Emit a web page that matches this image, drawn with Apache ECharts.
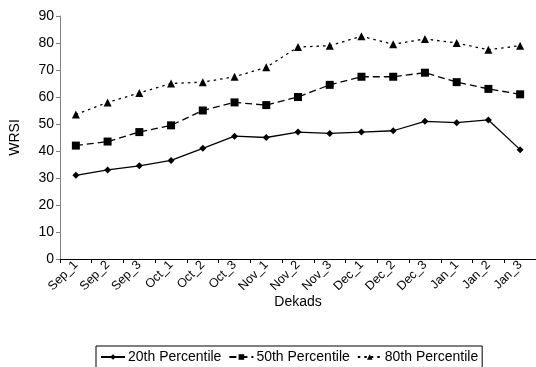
<!DOCTYPE html>
<html>
<head>
<meta charset="utf-8">
<script src="https://cdn.jsdelivr.net/npm/echarts@6/dist/echarts.min.js"></script>
<style>
  html, body { margin: 0; padding: 0; background: #fff; }
  #chart { width: 536px; height: 367px; }
</style>
</head>
<body>
<div id="chart"></div>
<script>
// WRSI percentiles per dekad across the season
const dekads = ['Sep_1', 'Sep_2', 'Sep_3', 'Oct_1', 'Oct_2', 'Oct_3', 'Nov_1', 'Nov_2', 'Nov_3',
                'Dec_1', 'Dec_2', 'Dec_3', 'Jan_1', 'Jan_2', 'Jan_3'];
const p20 = [31, 33, 34.5, 36.5, 41, 45.5, 45, 47, 46.5, 47, 47.5, 51, 50.5, 51.5, 40.5];
const p50 = [42, 43.5, 47, 49.5, 55, 58, 57, 60, 64.5, 67.5, 67.5, 69, 65.5, 63, 61];
const p80 = [53.5, 58, 61.5, 65, 65.5, 67.5, 71, 78.5, 79, 82.5, 79.5, 81.5, 80, 77.5, 79];
const seriesNames = ['20th Percentile', '50th Percentile', '80th Percentile'];

const font = 'Liberation Sans, Arial, sans-serif';
const axisGray = '#808080';

const chart = echarts.init(document.getElementById('chart'), null, { renderer: 'canvas' });

function lineSeries(name, data, symbol, size, dash) {
  return {
    name: name,
    type: 'line',
    data: data,
    symbol: symbol,
    symbolSize: size,
    showAllSymbol: true,
    itemStyle: { color: '#000' },
    lineStyle: { color: '#000', width: 1.3, type: dash },
    animation: false
  };
}

chart.setOption({
  animation: false,
  grid: { left: 57, top: 16, width: 480, height: 243, containLabel: false },
  legend: {
    data: seriesNames,
    left: 96,
    top: 346,
    itemWidth: 24,
    itemHeight: 7,
    itemGap: 7,
    padding: [4, 4, 8, 4],
    borderColor: '#000',
    borderWidth: 1,
    textStyle: { fontFamily: font, fontSize: 14, color: '#000', padding: [0, 0, 0, -2] }
  },
  xAxis: {
    type: 'category',
    data: dekads,
    boundaryGap: true,
    name: 'Dekads',
    nameLocation: 'middle',
    nameGap: 36,
    nameMoveOverlap: false,
    nameTextStyle: { fontFamily: font, fontSize: 14, color: '#000' },
    axisLine: { lineStyle: { color: '#000', width: 1 } },
    axisTick: { show: true, length: 4, alignWithLabel: false, lineStyle: { color: '#000' } },
    axisLabel: { rotate: 45, interval: 0, fontFamily: font, fontSize: 12.5, color: '#000', margin: 4 },
    splitLine: { show: false }
  },
  yAxis: {
    type: 'value',
    min: 0,
    max: 90,
    interval: 10,
    name: 'WRSI',
    nameLocation: 'middle',
    nameGap: 38,
    nameMoveOverlap: false,
    nameTextStyle: { fontFamily: font, fontSize: 14, color: '#000' },
    axisLine: { show: true, lineStyle: { color: axisGray, width: 1 } },
    axisTick: { show: true, length: 4, lineStyle: { color: axisGray } },
    axisLabel: { fontFamily: font, fontSize: 14, color: '#000', margin: 6 },
    splitLine: { show: false }
  },
  series: [
    lineSeries(seriesNames[0], p20, 'diamond', 7, 'solid'),
    lineSeries(seriesNames[1], p50, 'rect', 8, [7, 4]),
    lineSeries(seriesNames[2], p80, 'triangle', 8, [2.5, 4])
  ]
});
</script>
</body>
</html>
